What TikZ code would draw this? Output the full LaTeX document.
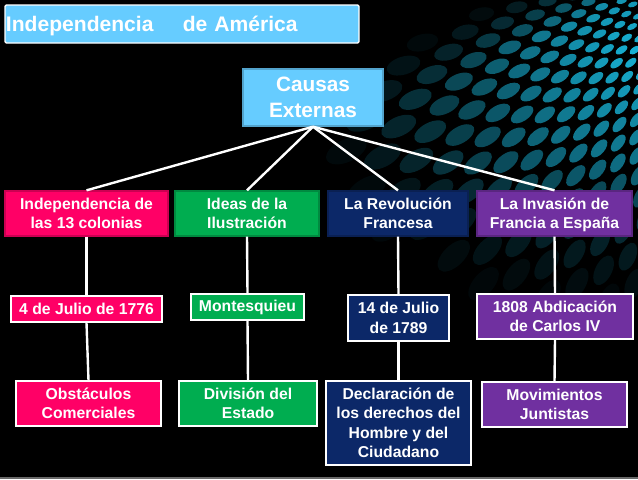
\documentclass[tikz,border=0pt]{standalone}
\usepackage{fontspec}
\setmainfont{Liberation Sans}

\definecolor{skybox}{HTML}{66CCFF}
\definecolor{pinkbox}{HTML}{FF0066}
\definecolor{greenbox}{HTML}{00AD50}
\definecolor{navybox}{HTML}{0C2868}
\definecolor{purplebox}{HTML}{7030A0}
\definecolor{dotteal}{HTML}{18B4D8}
\definecolor{stripgray}{HTML}{6A6A6A}

\newcommand{\boxstrut}{\rule[-0.5pt]{0pt}{14.6pt}}

\begin{document}
\begin{tikzpicture}[
    x=0.75pt, y=-0.75pt,
    boxsize/.style 2 args={minimum width=#1*0.75pt, minimum height=#2*0.75pt},
    oneline/.style={rectangle, draw=white, line width=1pt, inner sep=0pt, align=center,
        text=white, font=\fontsize{11.8}{14.6}\bfseries\selectfont},
    box/.style={oneline, execute at begin node=\boxstrut, execute at end node=\boxstrut},
    headbox/.style={box, fill=#1, draw=#1!80!black},
    edge/.style={draw=white, line width=1.8pt, -}
]
    % background
    \fill[black] (0,0) rectangle (638,479);
    \begin{scope}
    \clip (0,0) rectangle (638,479);
    \foreach \k in {0,...,26} {
        \foreach \j in {0,...,15} {
            \pgfmathsetmacro{\rad}{110*pow(1.07,\k)}
            \pgfmathsetmacro{\ang}{\j*5.5+2.75*mod(\k,2)}
            \pgfmathsetmacro{\px}{760-\rad*cos(\ang)}
            \pgfmathsetmacro{\py}{-40+\rad*sin(\ang)}
            \pgfmathsetmacro{\big}{0.052*\rad-2}
            \pgfmathsetmacro{\fade}{max(0,1-veclen(\px-638,\py-50)/340)
                *min(1,max(0,(\py+0.45*(\px-420)-30)/60))*min(1,max(0,(360-\py)/200))}
            \pgfmathtruncatemacro{\lum}{100*pow(\fade+0.001,1.2)}
            \ifnum\lum>3
                \fill[dotteal!\lum!black, shift={(\px,\py)}, rotate=\ang]
                    (0,0) ellipse [x radius=\big, y radius=0.52*\big];
            \fi
        }
    }
    \end{scope}
    \fill[stripgray] (0,477) rectangle (638,479);

    % nodes
    \node[box, fill=skybox, boxsize={354}{38}, rounded corners=1pt, text width=352*0.75pt, align=left,
        font=\fontsize{15.8}{18}\bfseries\selectfont] (title) at (182,24) {Independencia\hspace{22pt}de América};
    \node[headbox=skybox, boxsize={140}{57}, font=\fontsize{15.6}{19.5}\bfseries\selectfont] (causas) at (313,97.5) {Causas\\Externas};

    \node[headbox=pinkbox, boxsize={163}{45}] (colonias) at (86.5,213.5) {Independencia de\\las 13 colonias};
    \node[headbox=greenbox, boxsize={144}{45}] (ideas) at (247,213.5) {Ideas de la\\Ilustración};
    \node[headbox=navybox, boxsize={140}{45}] (revolucion) at (398,213.5) {La Revolución\\Francesa};
    \node[headbox=purplebox, boxsize={155}{45}] (invasion) at (554.5,213.5) {La Invasión de\\\smash{Francia a España}};

    \node[oneline, fill=pinkbox, boxsize={151}{26}] (julio) at (86.5,309) {4 de Julio de 1776};
    \node[oneline, fill=greenbox, boxsize={113}{26}] (montesquieu) at (247.5,307) {Montesquieu};
    \node[box, fill=navybox, boxsize={101}{46}] (bastilla) at (398.5,318) {14 de Julio\\de 1789};
    \node[box, fill=purplebox, boxsize={156}{45}] (abdicacion) at (555,316.5) {1808 Abdicación\\de Carlos IV};

    \node[box, fill=pinkbox, boxsize={145}{45}] (obstaculos) at (88.5,403.5) {Obstáculos\\Comerciales};
    \node[box, fill=greenbox, boxsize={138}{45}] (division) at (248,403.5) {División del\\Estado};
    \node[box, fill=navybox, boxsize={145}{84}] (declaracion) at (398.5,423) {Declaración de\\los derechos del\\Hombre y del\\Ciudadano};
    \node[box, fill=purplebox, boxsize={145}{45}] (juntistas) at (554.5,404.5) {Movimientos\\Juntistas};

    % connectors
    \draw[edge] (causas.south) -- (colonias.north);
    \draw[edge] (causas.south) -- (ideas.north);
    \draw[edge] (causas.south) -- (revolucion.north);
    \draw[edge] (causas.south) -- (invasion.north);
    \draw[edge] (colonias.south) -- (julio.north);
    \draw[edge] (julio.south) -- (obstaculos.north);
    \draw[edge] (ideas.south) -- (montesquieu.north);
    \draw[edge] (montesquieu.south) -- (division.north);
    \draw[edge] (revolucion.south) -- (bastilla.north);
    \draw[edge] (bastilla.south) -- (declaracion.north);
    \draw[edge] (invasion.south) -- (abdicacion.north);
    \draw[edge] (abdicacion.south) -- (juntistas.north);
\end{tikzpicture}
\end{document}
